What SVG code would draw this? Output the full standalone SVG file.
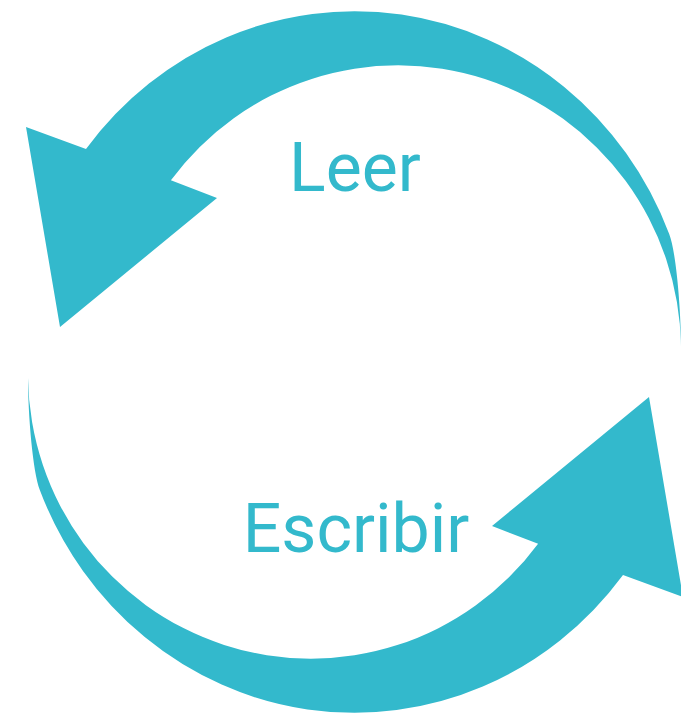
<svg xmlns="http://www.w3.org/2000/svg" width="681" height="714" viewBox="0 0 681 714">
  <defs>
    <style>
      .arrow { fill: #33B9CC; stroke: none; }
      .label { fill: #33B9CC; font-family: Roboto, "Liberation Sans", sans-serif; font-size: 68px; text-anchor: middle; }
    </style>
    <path id="cycleArrow" d="M86,149 A338 351 0 0 1 669.2,234 C676.3,252.7 681,310 681,346 A283 285 0 0 0 170.9,180.3 L217,198 L60,327 L26,127 Z"/>
  </defs>
  <rect width="681" height="714" fill="#FFFFFF"/>
  <g id="connectors">
    <use id="arrow-leer" class="arrow" href="#cycleArrow"/>
    <use id="arrow-escribir" class="arrow" href="#cycleArrow" transform="rotate(180 354.5 362)"/>
  </g>
  <g id="node-leer">
    <text class="label" x="355" y="191">Leer</text>
  </g>
  <g id="node-escribir">
    <text class="label" x="356" y="552">Escribir</text>
  </g>
</svg>
